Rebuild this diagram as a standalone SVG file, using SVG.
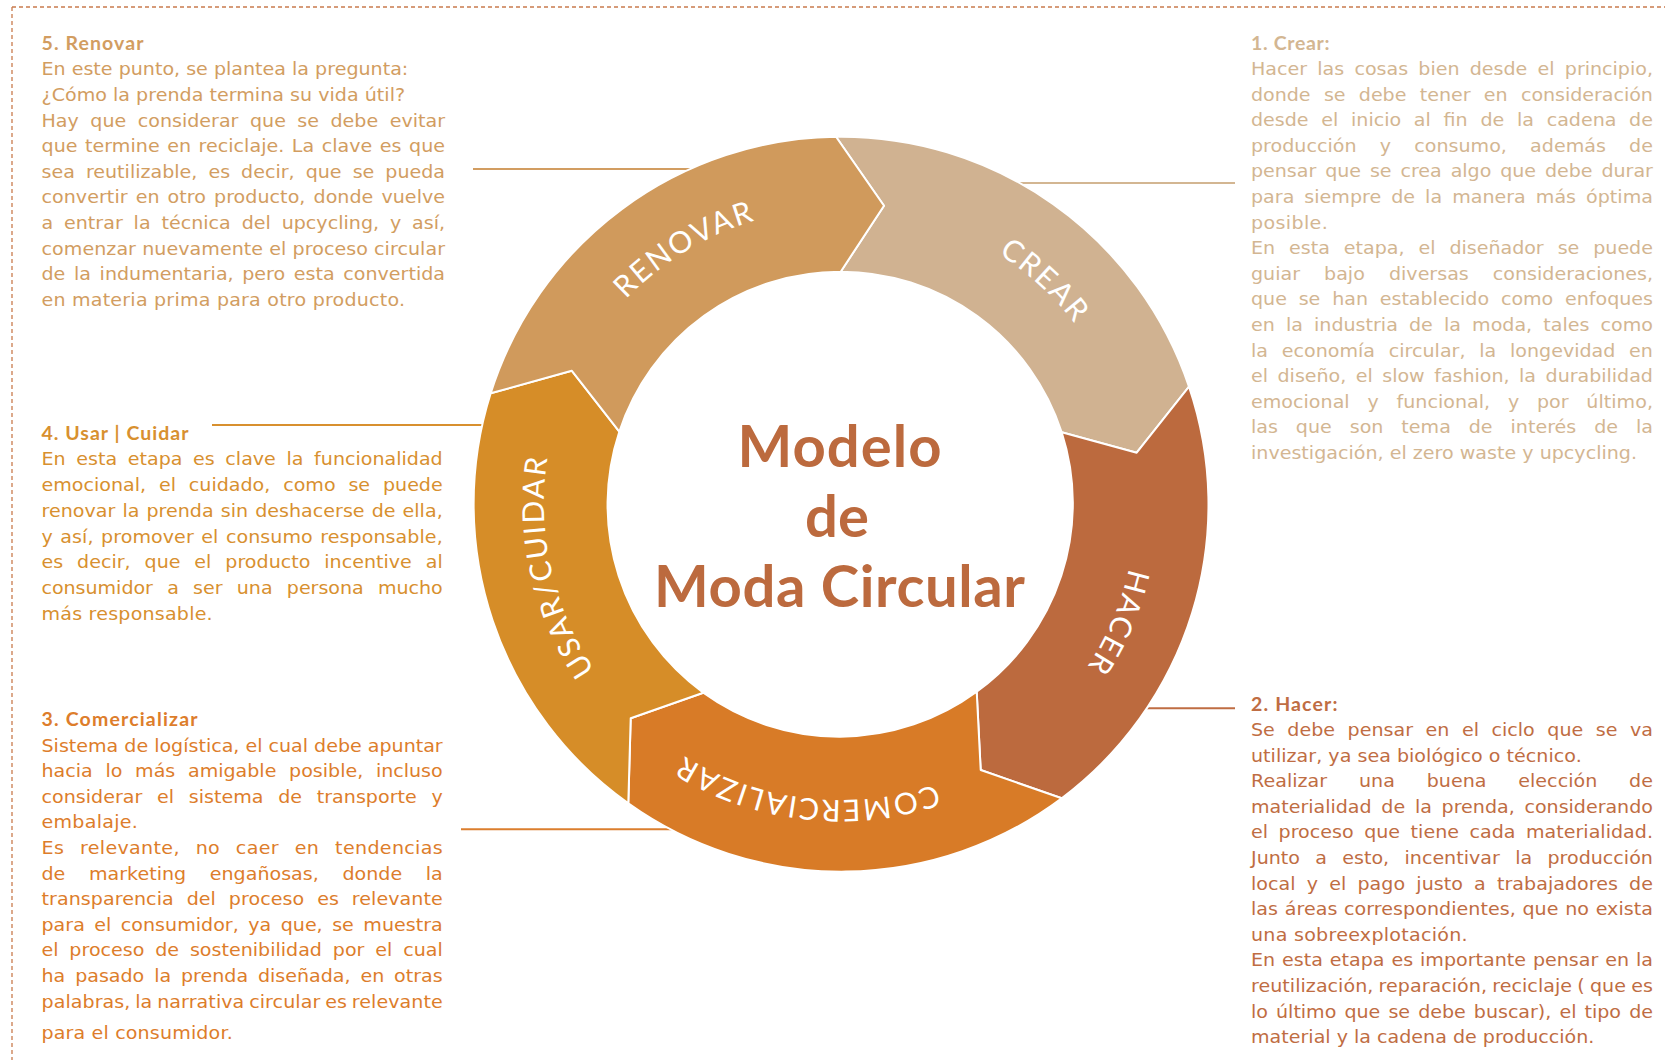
<svg xmlns="http://www.w3.org/2000/svg" xmlns:xlink="http://www.w3.org/1999/xlink" width="1665" height="1060" viewBox="0 0 1665 1060">
<style>
.t{font-family:"DejaVu Sans",Lato,sans-serif;font-size:18px;}
.h{font-family:Lato,"Liberation Sans",sans-serif;font-size:19.5px;font-weight:700;}
.c1{fill:#D3B692}.c2{fill:#BF6D43}.c3{fill:#DD7D2B}.c4{fill:#D8902F}.c5{fill:#D29D61}
.seg{stroke:#fff;stroke-width:2;stroke-linejoin:round}
.lbl{font-family:Lato,"Liberation Sans",sans-serif;font-size:30px;font-weight:400;fill:#fff;letter-spacing:2px;text-anchor:middle}
.title{font-family:Lato,"Liberation Sans",sans-serif;font-size:58px;font-weight:700;fill:#BC6A3E;text-anchor:middle}
.ln{stroke-width:2;fill:none}
</style>
<defs>
<path id="lblPath" d="M840,208 A296,296 0 1 1 840,800 A296,296 0 1 1 840,208" fill="none"/>
</defs>
<rect width="1665" height="1060" fill="#fff"/>
<path d="M12,7 H1665 M12,7 V1060" stroke="#C97B4D" stroke-width="1.3" stroke-dasharray="4 3" fill="none"/>

<g id="connectors">
<line class="ln" x1="473" y1="169" x2="720" y2="169" stroke="#D29D61"/>
<line class="ln" x1="1000" y1="183" x2="1235" y2="183" stroke="#D3B692"/>
<line class="ln" x1="212" y1="425" x2="500" y2="425" stroke="#D8902F"/>
<line class="ln" x1="461" y1="829.3" x2="700" y2="829.3" stroke="#DB7E2E"/>
<line class="ln" x1="1120" y1="708.3" x2="1235" y2="708.3" stroke="#BF6D43"/>
</g>

<g id="seg-crear">
<path class="seg" fill="#D0B291" d="M836,136.7 A367,367 0 0 1 1189,386.7 L1136.7,452.7 L1061.7,432.3 A232.5,232.5 0 0 0 840.7,271.7 L884,205.7 Z"/>
<text class="lbl"><textPath href="#lblPath" xlink:href="#lblPath" startOffset="219.6">CREAR</textPath></text>
</g>
<g id="seg-hacer">
<path class="seg" fill="#BC6A3E" d="M1189,386.7 A367,367 0 0 1 1061.7,798.3 L980.7,770 L976.7,691.7 A232.5,232.5 0 0 0 1061.7,432.3 L1136.7,452.7 Z"/>
<text class="lbl"><textPath href="#lblPath" xlink:href="#lblPath" startOffset="584">HACER</textPath></text>
</g>
<g id="seg-comercializar">
<path class="seg" fill="#D87B27" d="M1061.7,798.3 A367,367 0 0 1 628.3,803.3 L630.7,718.3 L703.3,692.7 A232.5,232.5 0 0 0 976.7,691.7 L980.7,770 Z"/>
<text class="lbl"><textPath href="#lblPath" xlink:href="#lblPath" startOffset="963.5">COMERCIALIZAR</textPath></text>
</g>
<g id="seg-usar">
<path class="seg" fill="#D68D28" d="M628.3,803.3 A367,367 0 0 1 490.7,393.3 L571.7,370.7 L619.3,431.7 A232.5,232.5 0 0 0 703.3,692.7 L630.7,718.3 Z"/>
<text class="lbl"><textPath href="#lblPath" xlink:href="#lblPath" startOffset="1330.2">USAR/CUIDAR</textPath></text>
</g>
<g id="seg-renovar">
<path class="seg" fill="#D09A5C" d="M490.7,393.3 A367,367 0 0 1 836,136.7 L884,205.7 L840.7,271.7 A232.5,232.5 0 0 0 619.3,431.7 L571.7,370.7 Z"/>
<text class="lbl"><textPath href="#lblPath" xlink:href="#lblPath" startOffset="1697.1">RENOVAR</textPath></text>
</g>

<g id="title">
<text class="title" x="839.5" y="466.6" textLength="204" lengthAdjust="spacing">Modelo</text>
<text class="title" x="837" y="537">de</text>
<text class="title" x="839.5" y="607.2" textLength="371" lengthAdjust="spacing">Moda Circular</text>
</g>

<g id="note-renovar" class="c5">
<text class="h" x="41.5" y="50" textLength="102" lengthAdjust="spacing">5. Renovar</text>
<g transform="translate(41.5 0) scale(1.06 1)">
<text class="t" x="0" y="75.5" textLength="346" lengthAdjust="spacing">En este punto, se plantea la pregunta:</text>
<text class="t" x="0" y="101.1" textLength="343" lengthAdjust="spacing">¿Cómo la prenda termina su vida útil?</text>
<text class="t" x="0" y="126.7" textLength="380.7" lengthAdjust="spacing" word-spacing="5.1">Hay que considerar que se debe evitar</text>
<text class="t" x="0" y="152.3" textLength="380.7" lengthAdjust="spacing" word-spacing="1.3">que termine en reciclaje. La clave es que</text>
<text class="t" x="0" y="177.9" textLength="380.7" lengthAdjust="spacing" word-spacing="4.7">sea reutilizable, es decir, que se pueda</text>
<text class="t" x="0" y="203.5" textLength="380.7" lengthAdjust="spacing" word-spacing="1.8">convertir en otro producto, donde vuelve</text>
<text class="t" x="0" y="229.1" textLength="380.7" lengthAdjust="spacing" word-spacing="4.5">a entrar la técnica del upcycling, y así,</text>
<text class="t" x="0" y="254.7" textLength="380.7" lengthAdjust="spacing">comenzar nuevamente el proceso circular</text>
<text class="t" x="0" y="280.3" textLength="380.7" lengthAdjust="spacing" word-spacing="2.4">de la indumentaria, pero esta convertida</text>
<text class="t" x="0" y="305.9" textLength="343" lengthAdjust="spacing">en materia prima para otro producto.</text>
</g>
</g>

<g id="note-usar" class="c4">
<text class="h" x="41.5" y="440" textLength="147" lengthAdjust="spacing">4. Usar | Cuidar</text>
<g transform="translate(41.5 0) scale(1.06 1)">
<text class="t" x="0" y="465.5" textLength="378.5" lengthAdjust="spacing" word-spacing="4.3">En esta etapa es clave la funcionalidad</text>
<text class="t" x="0" y="491.2" textLength="378.5" lengthAdjust="spacing" word-spacing="6.4">emocional, el cuidado, como se puede</text>
<text class="t" x="0" y="516.9" textLength="378.5" lengthAdjust="spacing" word-spacing="0.9">renovar la prenda sin deshacerse de ella,</text>
<text class="t" x="0" y="542.6" textLength="378.5" lengthAdjust="spacing" word-spacing="1.3">y así, promover el consumo responsable,</text>
<text class="t" x="0" y="568.3" textLength="378.5" lengthAdjust="spacing" word-spacing="7.4">es decir, que el producto incentive al</text>
<text class="t" x="0" y="594" textLength="378.5" lengthAdjust="spacing" word-spacing="7.8">consumidor a ser una persona mucho</text>
<text class="t" x="0" y="619.7" textLength="161.5" lengthAdjust="spacing">más responsable.</text>
</g>
</g>

<g id="note-comercializar" class="c3">
<text class="h" x="41.5" y="726" textLength="156" lengthAdjust="spacing">3. Comercializar</text>
<g transform="translate(41.5 0) scale(1.06 1)">
<text class="t" x="0" y="751.7" textLength="378.5" lengthAdjust="spacing">Sistema de logística, el cual debe apuntar</text>
<text class="t" x="0" y="777.3" textLength="378.5" lengthAdjust="spacing" word-spacing="6.3">hacia lo más amigable posible, incluso</text>
<text class="t" x="0" y="802.9" textLength="378.5" lengthAdjust="spacing" word-spacing="8.1">considerar el sistema de transporte y</text>
<text class="t" x="0" y="828.5" textLength="90.8" lengthAdjust="spacing">embalaje.</text>
<text class="t" x="0" y="854.1" textLength="378.5" lengthAdjust="spacing" word-spacing="8.9">Es relevante, no caer en tendencias</text>
<text class="t" x="0" y="879.7" textLength="378.5" lengthAdjust="spacing" word-spacing="16.5">de marketing engañosas, donde la</text>
<text class="t" x="0" y="905.3" textLength="378.5" lengthAdjust="spacing" word-spacing="6.4">transparencia del proceso es relevante</text>
<text class="t" x="0" y="930.9" textLength="378.5" lengthAdjust="spacing" word-spacing="3.2">para el consumidor, ya que, se muestra</text>
<text class="t" x="0" y="956.5" textLength="378.5" lengthAdjust="spacing" word-spacing="4.5">el proceso de sostenibilidad por el cual</text>
<text class="t" x="0" y="982.1" textLength="378.5" lengthAdjust="spacing" word-spacing="3.6">ha pasado la prenda diseñada, en otras</text>
<text class="t" x="0" y="1007.7" textLength="378.5" lengthAdjust="spacing" word-spacing="-1.2">palabras, la narrativa circular es relevante</text>
<text class="t" x="0" y="1039.3" textLength="180.4" lengthAdjust="spacing">para el consumidor.</text>
</g>
</g>

<g id="note-crear" class="c1">
<text class="h" x="1251" y="50" textLength="78.5" lengthAdjust="spacing">1. Crear:</text>
<g transform="translate(1251 0) scale(1.06 1)">
<text class="t" x="0" y="75" textLength="379.2" lengthAdjust="spacing" word-spacing="4">Hacer las cosas bien desde el principio,</text>
<text class="t" x="0" y="100.6" textLength="379.2" lengthAdjust="spacing" word-spacing="6.9">donde se debe tener en consideración</text>
<text class="t" x="0" y="126.2" textLength="379.2" lengthAdjust="spacing" word-spacing="6.3">desde el inicio al fin de la cadena de</text>
<text class="t" x="0" y="151.8" textLength="379.2" lengthAdjust="spacing" word-spacing="16.2">producción y consumo, además de</text>
<text class="t" x="0" y="177.4" textLength="379.2" lengthAdjust="spacing" word-spacing="2.7">pensar que se crea algo que debe durar</text>
<text class="t" x="0" y="203" textLength="379.2" lengthAdjust="spacing" word-spacing="3.7">para siempre de la manera más óptima</text>
<text class="t" x="0" y="228.6" textLength="72.4" lengthAdjust="spacing">posible.</text>
<text class="t" x="0" y="254.2" textLength="379.2" lengthAdjust="spacing" word-spacing="7.5">En esta etapa, el diseñador se puede</text>
<text class="t" x="0" y="279.8" textLength="379.2" lengthAdjust="spacing" word-spacing="17">guiar bajo diversas consideraciones,</text>
<text class="t" x="0" y="305.4" textLength="379.2" lengthAdjust="spacing" word-spacing="5.5">que se han establecido como enfoques</text>
<text class="t" x="0" y="331" textLength="379.2" lengthAdjust="spacing" word-spacing="4.8">en la industria de la moda, tales como</text>
<text class="t" x="0" y="356.6" textLength="379.2" lengthAdjust="spacing" word-spacing="7.2">la economía circular, la longevidad en</text>
<text class="t" x="0" y="382.2" textLength="379.2" lengthAdjust="spacing" word-spacing="3.3">el diseño, el slow fashion, la durabilidad</text>
<text class="t" x="0" y="407.8" textLength="379.2" lengthAdjust="spacing" word-spacing="11">emocional y funcional, y por último,</text>
<text class="t" x="0" y="433.4" textLength="379.2" lengthAdjust="spacing" word-spacing="11.2">las que son tema de interés de la</text>
<text class="t" x="0" y="459" textLength="364.2" lengthAdjust="spacing">investigación, el zero waste y upcycling.</text>
</g>
</g>

<g id="note-hacer" class="c2">
<text class="h" x="1251" y="710.7" textLength="86.5" lengthAdjust="spacing">2. Hacer:</text>
<g transform="translate(1251 0) scale(1.06 1)">
<text class="t" x="0" y="736" textLength="379.2" lengthAdjust="spacing" word-spacing="6.1">Se debe pensar en el ciclo que se va</text>
<text class="t" x="0" y="761.6" textLength="312" lengthAdjust="spacing">utilizar, ya sea biológico o técnico.</text>
<text class="t" x="0" y="787.2" textLength="379.2" lengthAdjust="spacing" word-spacing="24.2">Realizar una buena elección de</text>
<text class="t" x="0" y="812.8" textLength="379.2" lengthAdjust="spacing" word-spacing="3.5">materialidad de la prenda, considerando</text>
<text class="t" x="0" y="838.4" textLength="379.2" lengthAdjust="spacing" word-spacing="4.2">el proceso que tiene cada materialidad.</text>
<text class="t" x="0" y="864" textLength="379.2" lengthAdjust="spacing" word-spacing="8.7">Junto a esto, incentivar la producción</text>
<text class="t" x="0" y="889.6" textLength="379.2" lengthAdjust="spacing" word-spacing="4.8">local y el pago justo a trabajadores de</text>
<text class="t" x="0" y="915.2" textLength="379.2" lengthAdjust="spacing" word-spacing="0.5">las áreas correspondientes, que no exista</text>
<text class="t" x="0" y="940.8" textLength="204.4" lengthAdjust="spacing">una sobreexplotación.</text>
<text class="t" x="0" y="966.4" textLength="379.2" lengthAdjust="spacing" word-spacing="0.8">En esta etapa es importante pensar en la</text>
<text class="t" x="0" y="992" textLength="379.2" lengthAdjust="spacing" word-spacing="-0.8">reutilización, reparación, reciclaje ( que es</text>
<text class="t" x="0" y="1017.6" textLength="379.2" lengthAdjust="spacing" word-spacing="2">lo último que se debe buscar), el tipo de</text>
<text class="t" x="0" y="1043.2" textLength="323.9" lengthAdjust="spacing">material y la cadena de producción.</text>
</g>
</g>
</svg>
